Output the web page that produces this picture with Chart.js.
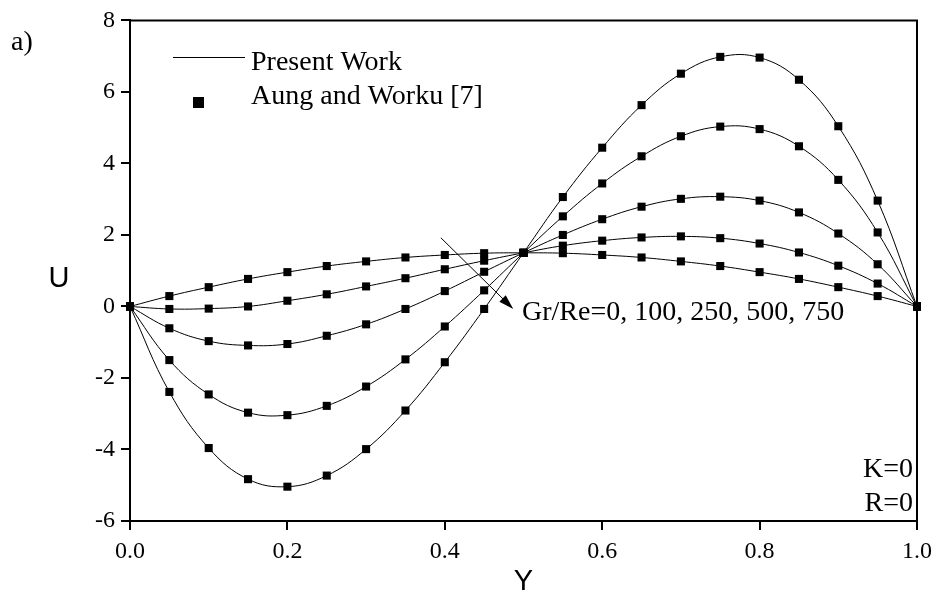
<!DOCTYPE html>
<html>
<head>
<meta charset="utf-8">
<script src="https://cdn.jsdelivr.net/npm/chart.js@4.4.1/dist/chart.umd.min.js"></script>
<style>
    body { margin: 0; background: #fff; }
    #wrap { width: 939px; height: 599px; position: relative; }
</style>
</head>
<body>
<div id="wrap"><canvas id="velocity-chart"></canvas></div>
<script>
// Y positions across the channel
const yPos = [0, 0.05, 0.1, 0.15, 0.2, 0.25, 0.3, 0.35, 0.4, 0.45, 0.5,
              0.55, 0.6, 0.65, 0.7, 0.75, 0.8, 0.85, 0.9, 0.95, 1.0];

// U profiles for each Gr/Re
const grRe0   = [0, 0.29, 0.54, 0.77, 0.96, 1.13, 1.26, 1.37, 1.44, 1.49, 1.50,
                 1.49, 1.44, 1.37, 1.26, 1.13, 0.96, 0.77, 0.54, 0.29, 0];
const grRe100 = [0, -0.07, -0.06, 0.00, 0.16, 0.34, 0.56, 0.79, 1.04, 1.28, 1.50,
                 1.70, 1.84, 1.93, 1.96, 1.91, 1.76, 1.51, 1.14, 0.64, 0];
const grRe250 = [0, -0.61, -0.97, -1.09, -1.05, -0.82, -0.50, -0.07, 0.43, 0.97, 1.50,
                 2.00, 2.44, 2.79, 3.01, 3.07, 2.96, 2.63, 2.04, 1.18, 0];
const grRe500 = [0, -1.50, -2.46, -2.97, -3.04, -2.78, -2.24, -1.48, -0.56, 0.45, 1.50,
                 2.52, 3.44, 4.20, 4.76, 5.03, 4.96, 4.48, 3.54, 2.07, 0];
const grRe750 = [0, -2.39, -3.96, -4.83, -5.04, -4.73, -3.99, -2.91, -1.56, -0.07, 1.50,
                 3.06, 4.44, 5.63, 6.51, 6.98, 6.96, 6.34, 5.04, 2.96, 0];

const profiles = [grRe0, grRe100, grRe250, grRe500, grRe750];

const xTickLabels = ["0.0", "0.2", "0.4", "0.6", "0.8", "1.0"];
const yTickLabels = ["-6", "-4", "-2", "0", "2", "4", "6", "8"];

const serif = "'Liberation Serif', 'Times New Roman', serif";
const sans = "'Liberation Sans', Arial, sans-serif";

function toPoints(values) {
    return values.map((u, i) => ({ x: yPos[i], y: u }));
}

const datasets = [];
// present work: smooth lines
profiles.forEach(p => {
    datasets.push({
        data: toPoints(p),
        showLine: true,
        borderColor: "#000",
        borderWidth: 1,
        tension: 0.4,
        pointRadius: 0,
        fill: false
    });
});
// Aung and Worku: square markers
profiles.forEach(p => {
    datasets.push({
        data: toPoints(p),
        showLine: false,
        pointStyle: "rect",
        pointRadius: 5.7,
        backgroundColor: "#000",
        borderColor: "#000",
        borderWidth: 0,
        clip: false
    });
});

const extras = {
    id: "extras",
    afterDraw(chart) {
        const ctx = chart.ctx;
        const area = chart.chartArea;
        const xs = chart.scales.x;
        const ys = chart.scales.y;
        ctx.save();

        // top and right frame lines
        ctx.strokeStyle = "#000";
        ctx.lineWidth = 2;
        ctx.beginPath();
        ctx.moveTo(area.left, area.top);
        ctx.lineTo(area.right, area.top);
        ctx.lineTo(area.right, area.bottom);
        ctx.stroke();

        ctx.fillStyle = "#000";
        ctx.textBaseline = "alphabetic";

        // legend
        ctx.lineWidth = 1;
        ctx.beginPath();
        ctx.moveTo(173, 57.5);
        ctx.lineTo(245, 57.5);
        ctx.stroke();
        ctx.fillRect(193, 97, 11, 11);
        ctx.font = "28px " + serif;
        ctx.textAlign = "left";
        ctx.fillText("Present Work", 251, 70);
        ctx.fillText("Aung and Worku [7]", 251, 104);

        // panel tag
        ctx.fillText("a)", 11, 50);

        // arrow through the family of curves
        const x0 = xs.getPixelForValue(0.395), y0 = ys.getPixelForValue(1.92);
        const x1 = xs.getPixelForValue(0.487), y1 = ys.getPixelForValue(-0.07);
        const ang = Math.atan2(y1 - y0, x1 - x0);
        ctx.beginPath();
        ctx.moveTo(x0, y0);
        ctx.lineTo(x1 - 10 * Math.cos(ang), y1 - 10 * Math.sin(ang));
        ctx.stroke();
        ctx.beginPath();
        ctx.moveTo(x1, y1);
        ctx.lineTo(x1 - 15 * Math.cos(ang) + 4.5 * Math.sin(ang), y1 - 15 * Math.sin(ang) - 4.5 * Math.cos(ang));
        ctx.lineTo(x1 - 15 * Math.cos(ang) - 4.5 * Math.sin(ang), y1 - 15 * Math.sin(ang) + 4.5 * Math.cos(ang));
        ctx.closePath();
        ctx.fill();

        ctx.fillText("Gr/Re=0, 100, 250, 500, 750", 522, 320);

        ctx.textAlign = "right";
        ctx.fillText("K=0", area.right - 4, 477);
        ctx.fillText("R=0", area.right - 4, 511);

        // axis titles
        ctx.font = "29px " + sans;
        ctx.textAlign = "center";
        ctx.fillText("U", 59, 287);
        ctx.fillText("Y", (area.left + area.right) / 2, 590);

        ctx.restore();
    }
};

new Chart(document.getElementById("velocity-chart"), {
    type: "scatter",
    data: { datasets: datasets },
    options: {
        responsive: true,
        maintainAspectRatio: false,
        animation: false,
        layout: { padding: { top: 15, right: 22, left: 0, bottom: 0 } },
        plugins: {
            legend: { display: false },
            tooltip: { enabled: false }
        },
        scales: {
            x: {
                type: "linear",
                min: 0,
                max: 1,
                afterFit(scale) { scale.height = 78; },
                ticks: {
                    stepSize: 0.2,
                    color: "#000",
                    padding: 7,
                    maxRotation: 0,
                    font: { family: serif, size: 24 },
                    callback: (value, index) => xTickLabels[index]
                },
                grid: {
                    drawOnChartArea: false,
                    drawTicks: true,
                    tickLength: 9,
                    color: "#000",
                    lineWidth: 2
                },
                border: { display: true, color: "#000", width: 2 }
            },
            y: {
                type: "linear",
                min: -6,
                max: 8,
                afterFit(scale) { scale.width = 130; },
                ticks: {
                    stepSize: 2,
                    color: "#000",
                    padding: 6,
                    font: { family: serif, size: 24 },
                    callback: (value, index) => yTickLabels[index]
                },
                grid: {
                    drawOnChartArea: false,
                    drawTicks: true,
                    tickLength: 9,
                    color: "#000",
                    lineWidth: 2
                },
                border: { display: true, color: "#000", width: 2 }
            }
        }
    },
    plugins: [extras]
});
</script>
</body>
</html>
